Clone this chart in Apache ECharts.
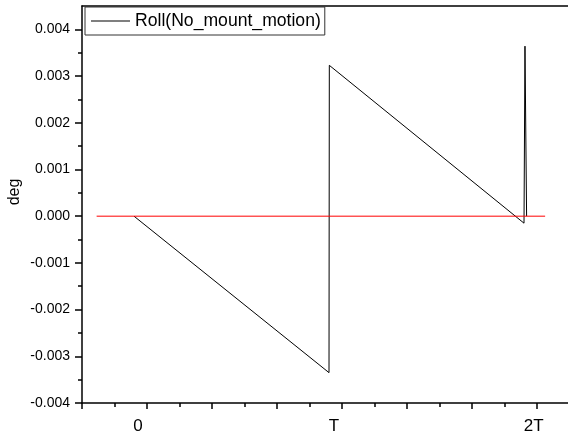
<!DOCTYPE html>
<html><head><meta charset="utf-8">
<script src="https://cdn.jsdelivr.net/npm/echarts@6/dist/echarts.min.js"></script>
<style>html,body{margin:0;padding:0;background:#fff}#c{width:568px;height:435px}</style>
</head><body><div id="c"></div>
<script>
// x in units of T/6 (ticks every T/3)
const rollX = [-0.4, 5.6, 5.61, 11.6, 11.63, 11.68];
const rollY = [0, -0.00335, 0.00323, -0.00015, 0.00364, 0];
const refX = [-1.55, 12.25];
const refY = [0, 0];
const xLabelValues = [-0.28, 5.75, 11.9];
const xLabelTexts = ['0', 'T', '2T'];
const yLabelValues = [-0.004, -0.003, -0.002, -0.001, 0, 0.001, 0.002, 0.003, 0.004];
const yMinorValues = [-0.0035, -0.0025, -0.0015, -0.0005, 0.0005, 0.0015, 0.0025, 0.0035];
const seriesName = 'Roll(No_mount_motion)';

const FONT = 'Liberation Sans, Arial, sans-serif';
const chart = echarts.init(document.getElementById('c'), null, {renderer: 'canvas'});
const pairs = (xs, ys) => xs.map((x, i) => [x, ys[i]]);
const axisLine = {show: true, onZero: false, lineStyle: {color: '#000', width: 1.5}};

chart.setOption({
  animation: false,
  backgroundColor: '#fff',
  grid: {left: 82, width: 520, top: 6, height: 397, outerBoundsMode: 'none', containLabel: false},
  legend: {
    data: [{name: seriesName, icon: 'rect'}],
    left: 85, top: 7,
    padding: [5, 4, 5, 6],
    itemWidth: 39, itemHeight: 1,
    borderColor: '#333', borderWidth: 1,
    textStyle: {fontSize: 17.6, fontFamily: FONT, color: '#000'}
  },
  xAxis: [{
    type: 'value', min: -2, max: 14, interval: 2,
    axisLine: axisLine,
    axisTick: {show: true, length: 6, lineStyle: {color: '#000', width: 1.5}},
    minorTick: {show: true, splitNumber: 2, length: 4, lineStyle: {color: '#000', width: 1.5}},
    splitLine: {show: false}, minorSplitLine: {show: false},
    axisLabel: {
      customValues: xLabelValues,
      margin: 15, fontSize: 17, fontFamily: FONT, color: '#000',
      formatter: v => {
        const i = xLabelValues.findIndex(x => Math.abs(x - v) < 1e-6);
        return i >= 0 ? xLabelTexts[i] : '';
      }
    }
  }, {
    type: 'value', position: 'top', min: -2, max: 14,
    axisLine: axisLine, axisTick: {show: false}, axisLabel: {show: false}, splitLine: {show: false}
  }],
  yAxis: [{
    type: 'value', min: -0.004, max: 0.0045, interval: 0.0005,
    axisLine: axisLine,
    axisTick: {show: true, length: 7, customValues: yLabelValues, lineStyle: {color: '#000', width: 1.5}},
    splitLine: {show: false},
    axisLabel: {
      customValues: yLabelValues,
      margin: 12, fontSize: 14, fontFamily: FONT, color: '#000',
      formatter: v => v.toFixed(3)
    }
  }, {
    type: 'value', position: 'left', offset: 0, min: -0.004, max: 0.0045, interval: 0.0005,
    axisLine: {show: false, onZero: false},
    axisTick: {show: true, length: 4, customValues: yMinorValues, lineStyle: {color: '#000', width: 1.5}},
    axisLabel: {show: false}, splitLine: {show: false}
  }],
  graphic: [{
    type: 'text', x: 15, y: 192, rotation: Math.PI / 2,
    style: {text: 'deg', font: '16px ' + FONT, fill: '#000', textAlign: 'center', textVerticalAlign: 'middle'}
  }],
  series: [{
    name: seriesName, type: 'line', xAxisIndex: 0, yAxisIndex: 0,
    showSymbol: false, symbol: 'none', color: '#000',
    lineStyle: {color: '#000', width: 1},
    data: pairs(rollX, rollY)
  }, {
    name: 'zero', type: 'line', xAxisIndex: 0, yAxisIndex: 0,
    showSymbol: false, symbol: 'none', color: '#ff0000',
    lineStyle: {color: '#ff0000', width: 1},
    data: pairs(refX, refY)
  }]
});
</script></body></html>
